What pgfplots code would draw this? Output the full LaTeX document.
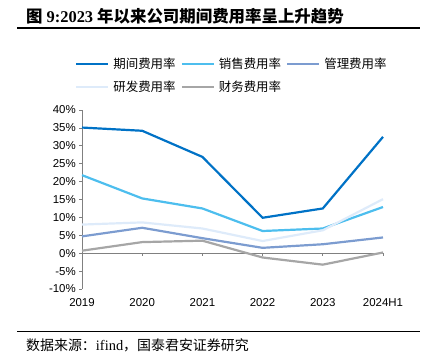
\documentclass[border=0pt]{standalone}
\usepackage{pgfplots}
\pgfplotsset{compat=1.18}
\usepackage{fontspec}
\setmainfont{Liberation Sans}
\newfontfamily\cjk{Noto Sans CJK SC}
\newfontfamily\serif{Liberation Serif}
\definecolor{cQJ}{RGB}{0,114,198}
\definecolor{cXS}{RGB}{77,190,238}
\definecolor{cGL}{RGB}{124,156,208}
\definecolor{cYF}{RGB}{222,235,250}
\definecolor{cCW}{RGB}{166,166,166}
\definecolor{axgray}{RGB}{128,128,128}
\begin{document}
\begin{tikzpicture}
\path[use as bounding box] (0bp,0bp) rectangle (429bp,-357bp);
\node[anchor=west,inner sep=0pt] at (26bp,-16bp) {\fontsize{16.5}{16.5}\selectfont\bfseries{\cjk 图}\hspace{4bp}{\serif 9:2023}\hspace{4bp}{\cjk 年以来公司期间费用率呈上升趋势}};
\draw[line width=1.2bp] (17bp,-28bp) -- (420bp,-28bp);
\draw[line width=1bp] (17bp,-331bp) -- (420bp,-331bp);
\node[anchor=west,inner sep=0pt] at (26bp,-345bp) {\fontsize{14}{14}\selectfont{\cjk 数据来源：}{\serif\fontsize{14.5}{14.5}\selectfont ifind}{\cjk ，国泰君安证券研究}};
\begin{axis}[
  at={(82bp,-289bp)}, anchor=south west,
  scale only axis, width=301bp, height=179bp,
  xmin=0, xmax=5, ymin=-10, ymax=40,
  axis y line*=left, axis x line*=bottom,
  x axis line style={draw=none},
  y axis line style={draw=axgray, line width=0.8bp},
  ytick={-10,-5,0,5,10,15,20,25,30,35,40},
  yticklabels={-10\%,-5\%,0\%,5\%,10\%,15\%,20\%,25\%,30\%,35\%,40\%},
  xtick={0,1,2,3,4,5},
  xticklabels={2019,2020,2021,2022,2023,2024H1},
  major x tick style={draw=none},
  major y tick style={draw=axgray, line width=0.8bp},
  tick align=outside, major tick length=3bp,
  yticklabel style={font=\fontsize{11.5}{11.5}\selectfont, inner sep=0pt, xshift=-3bp},
  xticklabel style={font=\fontsize{11.5}{11.5}\selectfont, yshift=-3bp},
  clip=false,
  legend cell align=left,
  legend image code/.code={\draw[#1] (0bp,0bp) -- (32bp,0bp);},
  legend style={at={(-0.0233,1.29)}, anchor=north west, draw=none, fill=none,
    inner sep=0pt, legend columns=3,
    font=\cjk\fontsize{12.5}{12.5}\selectfont,
    nodes={inner sep=0pt, text height=10bp, text depth=2bp},
    row sep=11bp,
    /tikz/every odd column/.append style={column sep=4bp},
    /tikz/every even column/.append style={column sep=5bp}},
]
\draw[axgray, line width=0.8bp] (axis cs:0,0) -- (axis cs:5,0);
\pgfplotsinvokeforeach{1,2,3,4,5}{\draw[axgray, line width=0.8bp] (axis cs:#1,0) -- ++(0bp,-3bp);}
\addplot[cQJ, line width=2.2bp, no marks] coordinates {(0,35.1) (1,34.2) (2,26.9) (3,9.9) (4,12.5) (5,32.5)};
\addlegendentry{期间费用率}
\addplot[cXS, line width=2.2bp, no marks] coordinates {(0,21.8) (1,15.3) (2,12.5) (3,6.2) (4,6.9) (5,12.9)};
\addlegendentry{销售费用率}
\addplot[cGL, line width=2.2bp, no marks] coordinates {(0,4.7) (1,7.1) (2,4.2) (3,1.5) (4,2.5) (5,4.4)};
\addlegendentry{管理费用率}
\addplot[cYF, line width=2.2bp, no marks] coordinates {(0,8.0) (1,8.6) (2,6.9) (3,3.4) (4,6.4) (5,15.1)};
\addlegendentry{研发费用率}
\addplot[cCW, line width=2.2bp, no marks] coordinates {(0,0.7) (1,3.1) (2,3.5) (3,-1.2) (4,-3.2) (5,0.2)};
\addlegendentry{财务费用率}
\end{axis}
\end{tikzpicture}
\end{document}
